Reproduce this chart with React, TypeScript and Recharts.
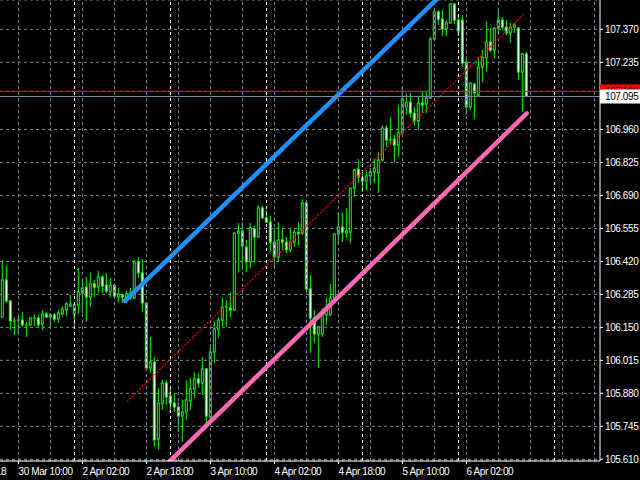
import { ComposedChart, Bar, XAxis, YAxis, CartesianGrid, ReferenceLine } from "recharts"

// USDJPY H1, 30 Mar - 6 Apr
const opens = [
  106.192, 106.344, 106.258, 106.176, 106.18, 106.18, 106.16, 106.16, 106.188, 106.188,
  106.164, 106.205, 106.192, 106.201, 106.184, 106.205, 106.221, 106.237, 106.205, 106.242,
  106.291, 106.315, 106.274, 106.328, 106.315, 106.356, 106.323, 106.295, 106.323, 106.274,
  106.283, 106.274, 106.27, 106.27, 106.418, 106.373, 106.25, 105.984, 106.008, 105.693,
  105.84, 105.922, 105.869, 105.84, 105.824, 105.787, 105.804, 105.849, 105.898, 105.939,
  105.922, 105.98, 105.783, 106.049, 106.143, 106.18, 106.233, 106.229, 106.221, 106.536,
  106.544, 106.479, 106.418, 106.553, 106.52, 106.639, 106.598, 106.581, 106.499, 106.438,
  106.508, 106.499, 106.467, 106.499, 106.54, 106.536, 106.659, 106.307, 106.188, 106.123,
  106.123, 106.201, 106.201, 106.27, 106.532, 106.561, 106.536, 106.54, 106.72, 106.798,
  106.761, 106.749, 106.77, 106.786, 106.782, 106.835, 106.966, 106.917, 106.921, 106.896,
  106.946, 107.052, 107.072, 107.027, 106.995, 107.068, 107.064, 107.089, 107.33, 107.441,
  107.412, 107.371, 107.396, 107.474, 107.408, 107.408, 107.236, 107.052, 107.146, 107.101,
  107.216, 107.253, 107.318, 107.285, 107.375, 107.408, 107.379, 107.355, 107.379, 107.375,
  107.195, 107.269,
]
const highs = [
  106.426, 106.405, 106.262, 106.192, 106.201, 106.213, 106.172, 106.192, 106.205, 106.201,
  106.221, 106.213, 106.209, 106.209, 106.221, 106.237, 106.254, 106.283, 106.25, 106.393,
  106.344, 106.356, 106.373, 106.344, 106.381, 106.364, 106.373, 106.352, 106.325, 106.311,
  106.287, 106.299, 106.311, 106.426, 106.438, 106.43, 106.252, 106.111, 106.029, 105.902,
  105.935, 105.935, 105.902, 105.881, 105.845, 105.853, 105.935, 105.943, 105.967, 105.963,
  106.029, 105.984, 106.078, 106.172, 106.192, 106.27, 106.262, 106.291, 106.538, 106.577,
  106.581, 106.508, 106.577, 106.565, 106.651, 106.647, 106.63, 106.606, 106.557, 106.581,
  106.557, 106.52, 106.553, 106.549, 106.581, 106.675, 106.667, 106.364, 106.221, 106.156,
  106.229, 106.27, 106.328, 106.536, 106.622, 106.622, 106.639, 106.722, 106.798, 106.839,
  106.794, 106.794, 106.802, 106.839, 106.868, 106.978, 106.978, 107.011, 106.937, 107.06,
  107.134, 107.109, 107.109, 107.052, 107.093, 107.113, 107.113, 107.339, 107.443, 107.449,
  107.449, 107.408, 107.478, 107.478, 107.429, 107.429, 107.253, 107.154, 107.15, 107.257,
  107.285, 107.404, 107.375, 107.379, 107.453, 107.42, 107.408, 107.396, 107.396, 107.379,
  107.273, 107.277,
]
const lows = [
  106.188, 106.25, 106.139, 106.119, 106.119, 106.152, 106.111, 106.156, 106.156, 106.152,
  106.139, 106.188, 106.152, 106.172, 106.168, 106.197, 106.197, 106.233, 106.156, 106.205,
  106.209, 106.172, 106.233, 106.274, 106.291, 106.291, 106.291, 106.274, 106.274, 106.254,
  106.25, 106.25, 106.262, 106.266, 106.352, 106.213, 105.98, 105.963, 105.66, 105.648,
  105.812, 105.832, 105.804, 105.804, 105.722, 105.681, 105.771, 105.812, 105.861, 105.902,
  105.873, 105.75, 105.763, 106.004, 106.107, 106.152, 106.152, 106.192, 106.217, 106.373,
  106.385, 106.377, 106.393, 106.413, 106.516, 106.596, 106.577, 106.458, 106.397, 106.418,
  106.467, 106.454, 106.458, 106.479, 106.487, 106.528, 106.303, 106.045, 106.086, 105.984,
  106.111, 106.16, 106.199, 106.254, 106.487, 106.499, 106.516, 106.495, 106.684, 106.741,
  106.704, 106.712, 106.745, 106.741, 106.7, 106.827, 106.888, 106.896, 106.823, 106.847,
  106.944, 107.019, 107.007, 106.978, 106.958, 107.027, 107.027, 107.085, 107.328, 107.388,
  107.343, 107.343, 107.394, 107.392, 107.343, 107.216, 107.019, 107.04, 107.003, 107.093,
  107.154, 107.195, 107.277, 107.253, 107.355, 107.367, 107.347, 107.314, 107.355, 107.163,
  107.032, 107.093,
]
const closes = [
  106.344, 106.258, 106.176, 106.18, 106.176, 106.16, 106.164, 106.188, 106.186, 106.16,
  106.205, 106.192, 106.201, 106.184, 106.209, 106.225, 106.246, 106.246, 106.242, 106.295,
  106.311, 106.274, 106.328, 106.315, 106.356, 106.319, 106.299, 106.323, 106.278, 106.287,
  106.274, 106.287, 106.291, 106.418, 106.373, 106.25, 105.984, 106.008, 105.689, 105.84,
  105.922, 105.865, 105.84, 105.824, 105.787, 105.804, 105.853, 105.898, 105.939, 105.922,
  105.98, 105.787, 106.049, 106.143, 106.18, 106.233, 106.229, 106.221, 106.536, 106.544,
  106.483, 106.418, 106.557, 106.52, 106.639, 106.598, 106.581, 106.499, 106.438, 106.508,
  106.499, 106.467, 106.499, 106.54, 106.532, 106.659, 106.307, 106.188, 106.123, 106.152,
  106.201, 106.233, 106.27, 106.532, 106.561, 106.54, 106.544, 106.72, 106.794, 106.765,
  106.749, 106.77, 106.786, 106.802, 106.835, 106.966, 106.917, 106.913, 106.896, 106.946,
  107.085, 107.072, 107.027, 106.995, 107.068, 107.06, 107.089, 107.33, 107.441, 107.412,
  107.371, 107.396, 107.474, 107.408, 107.363, 107.232, 107.052, 107.15, 107.109, 107.216,
  107.257, 107.318, 107.285, 107.375, 107.408, 107.379, 107.355, 107.379, 107.388, 107.195,
  107.269, 107.095,
]

const priceTicks = [
  105.61, 105.745, 105.88, 106.015, 106.15, 106.285, 106.42, 106.555, 106.69, 106.825, 106.96,
  107.235, 107.37,
]
const timeTicks = [-12, 4, 20, 36, 52, 68, 84, 100, 116]
const timeLabels = [
  "29 Mar 2018", "30 Mar 10:00", "2 Apr 02:00", "2 Apr 18:00", "3 Apr 10:00",
  "4 Apr 02:00", "4 Apr 18:00", "5 Apr 10:00", "6 Apr 02:00",
]
const gridBars = [4, 12, 20, 28, 36, 44, 52, 60, 68, 76, 84, 92, 100, 108, 116, 124, 132, 140, 148]
const daySeparators = [18, 42, 66, 90, 114, 138]

const bid = 107.095
const ask = 107.116

// channel drawn on the chart (bar index, price)
const channelTop = [{ x: 30.6, y: 106.258 }, { x: 111, y: 107.532 }]
const channelMid = [{ x: 31.1, y: 105.845 }, { x: 130.6, y: 107.436 }]
const channelLow = [{ x: 39.5, y: 105.565 }, { x: 131.05, y: 107.026 }]

const data = opens.map((o, i) => ({
  i,
  open: o,
  high: highs[i],
  low: lows[i],
  close: closes[i],
  range: [lows[i], highs[i]],
}))

const GREEN = "#00ff00"
const GRID = "#778899"
const FONT = "'Liberation Sans', Arial, sans-serif"

function Candle(props: any) {
  const { x, y, width, height, payload } = props
  if (x == null || !payload) return null
  const cx = x + width / 2
  const top = Math.min(y, y + height)
  const span = Math.abs(height)
  const rng = payload.high - payload.low
  const k = rng > 0 ? span / rng : 0
  const py = (p: number) => top + (payload.high - p) * k
  const o = py(payload.open)
  const c = py(payload.close)
  const bodyTop = Math.min(o, c)
  const bodyH = Math.abs(o - c)
  const bull = payload.close >= payload.open
  return (
    <g>
      <line x1={cx} x2={cx} y1={top} y2={top + span} stroke={GREEN} strokeWidth={1} />
      {bodyH < 1 ? (
        <line x1={cx - 1.5} x2={cx + 1.5} y1={o} y2={o} stroke={GREEN} strokeWidth={1} />
      ) : (
        <rect x={cx - 1} y={bodyTop} width={2} height={bodyH} fill={bull ? "#000" : "#fff"} stroke={GREEN} strokeWidth={1} />
      )}
    </g>
  )
}

function TimeTick(props: any) {
  const { x, y, payload } = props
  const label = timeLabels[timeTicks.indexOf(payload.value)]
  return (
    <text x={x} y={y} dy={9} fill="#fff" fontSize={10} fontFamily={FONT} letterSpacing={-0.4} textAnchor="start">
      {label}
    </text>
  )
}

// price labels on the right; ask and bid get their coloured boxes
function PriceTick(props: any) {
  const { x, y, payload } = props
  const v = payload.value
  const tag = v === bid ? { bg: "#fff", fg: "#000", top: y - 7 } : v === ask ? { bg: "#ff0000", fg: "#000", top: y - 7 } : null
  return (
    <g>
      {tag && <rect x={x - 5} y={tag.top} width={40} height={14} fill={tag.bg} />}
      <text x={x} y={y} dy={3.5} fill={tag ? tag.fg : "#fff"} fontSize={10} fontFamily={FONT} letterSpacing={-0.4} textAnchor="start">
        {v.toFixed(3)}
      </text>
    </g>
  )
}

export default function App() {
  return (
    <div style={{ width: 640, height: 480, background: "#000" }}>
      <style>{"body{margin:0;background:#000}"}</style>
      <ComposedChart width={640} height={480} data={data} margin={{ top: 0, right: 0, bottom: 0, left: 0 }}>
        <CartesianGrid vertical={false} stroke={GRID} strokeDasharray="3 3" />
        <XAxis
          type="number"
          dataKey="i"
          domain={[-0.625, 149.375]}
          allowDataOverflow
          ticks={timeTicks}
          interval={0}
          tick={<TimeTick />}
          tickSize={3}
          tickLine={{ stroke: "#fff" }}
          axisLine={{ stroke: "#fff" }}
          height={19}
        />
        <YAxis
          orientation="right"
          domain={[105.603, 107.49]}
          allowDataOverflow
          ticks={[...priceTicks, ask, bid]}
          interval={0}
          width={40}
          tickSize={3}
          tick={<PriceTick />}
          tickLine={{ stroke: "#fff" }}
          axisLine={{ stroke: "#fff" }}
        />
        {gridBars.map((g) => (
          <ReferenceLine key={"g" + g} x={g} stroke={GRID} strokeDasharray="3 3" />
        ))}
        {daySeparators.map((d) => (
          <ReferenceLine key={"d" + d} x={d} stroke="#fff" strokeDasharray="3 3" />
        ))}
        <Bar dataKey="range" barSize={4} shape={<Candle />} isAnimationActive={false} />
        <ReferenceLine segment={channelMid} stroke="#ff0000" strokeWidth={1.2} strokeDasharray="2 1.5" ifOverflow="hidden" />
        <ReferenceLine segment={channelTop} stroke="#1e90ff" strokeWidth={4.5} strokeLinecap="round" ifOverflow="hidden" />
        <ReferenceLine segment={channelLow} stroke="#ff69b4" strokeWidth={4.5} strokeLinecap="round" ifOverflow="hidden" />
        <ReferenceLine y={ask} stroke="#ff0000" />
        <ReferenceLine y={bid} stroke={GRID} />
      </ComposedChart>
    </div>
  )
}
